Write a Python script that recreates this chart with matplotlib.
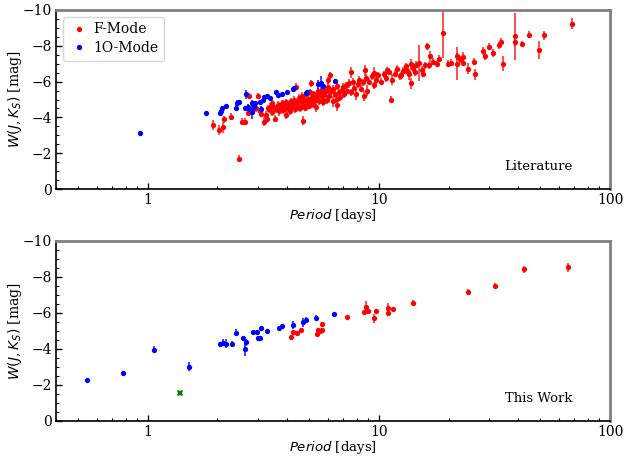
import matplotlib
matplotlib.use("Agg")
import matplotlib.pyplot as plt
from matplotlib.lines import Line2D
from matplotlib.ticker import AutoMinorLocator, LogLocator, NullFormatter, FixedLocator, FixedFormatter

plt.rcParams["font.family"] = ["DejaVu Serif"]
plt.rcParams["mathtext.fontset"] = "dejavusans"

# ---------------- Literature sample ----------------
# Fundamental-mode Cepheids: period [d], W(J,Ks) [mag], error [mag]
lit_f_period = [
    1.92, 2.04, 2.12, 2.13, 2.30, 2.48, 2.55, 2.64, 2.72, 2.74, 2.87, 2.95, 3.0, 3.05, 3.1,
    3.17, 3.26, 3.28, 3.32, 3.37, 3.46, 3.55, 3.73, 3.85, 3.96, 4.37, 4.7, 5.1, 6.04, 6.13,
    6.56, 7.0, 7.56, 8.6, 8.7, 9.47, 10.8, 11.3, 12.5, 12.95, 13.4, 13.7, 13.8, 14.3, 14.9,
    15.5, 16.2, 16.6, 16.5, 17.2, 17.8, 18.1, 18.9, 19.9, 20.6, 21.7, 21.7, 22.5, 23.0, 23.1,
    24.4, 25.8, 26.1, 28.1, 28.8, 30.0, 31.0, 33.1, 33.9, 34.5, 38.8, 38.8, 41.4, 44.8, 49.2,
    51.9, 68.6,
    3.35, 3.45, 3.5, 3.6, 3.65, 3.7, 3.75, 3.8, 3.85, 3.9, 3.95, 4.0,
    4.05, 4.1, 4.15, 4.2, 4.25, 4.3, 4.35, 4.4, 4.45, 4.5, 4.55, 4.6, 4.65, 4.7, 4.75, 4.8,
    4.85, 4.9, 4.95, 5.0, 5.05, 5.1, 5.15, 5.2, 5.25, 5.3, 5.35, 5.4, 5.45,
    5.5, 5.6, 5.65, 5.7, 5.75, 5.8, 5.9, 5.95, 6.0, 6.1, 6.2, 6.3, 6.35, 6.45, 6.55, 6.6,
    6.7, 6.8, 6.9,
    7.05, 7.2, 7.3, 7.45, 7.6, 7.7, 7.8, 7.95, 8.1, 8.2, 8.35, 8.5, 8.8, 8.9, 9.05, 9.3,
    9.5, 9.7, 9.9,
    10.2, 10.5, 10.7, 11.0, 11.4, 11.7, 12.0, 12.3, 12.7, 13.1, 13.5, 14.0, 14.5, 15.3, 15.8,
]
lit_f_w = [
    -3.57, -3.29, -3.44, -3.89, -4.03, -1.69, -3.75, -3.75, -4.26, -5.2, -4.5, -4.5, -5.2, -4.35, -4.2,
    -3.75, -4.13, -3.9, -4.5, -4.59, -4.81, -3.92, -4.68, -4.78, -4.13, -5.71, -3.81, -5.9, -6.08, -6.36,
    -4.68, -5.71, -6.51, -5.19, -6.64, -6.5, -6.64, -4.98, -6.36, -6.64, -6.54, -6.97, -5.9, -6.54, -7.05,
    -6.45, -7.98, -7.42, -6.92, -7.1, -7.01, -7.29, -8.74, -7.01, -7.05, -7.42, -7.01, -7.24, -7.38, -7.05,
    -6.73, -7.1, -6.41, -7.71, -7.43, -7.94, -7.6, -8.03, -8.21, -7.01, -8.53, -8.21, -8.12, -8.63, -7.75,
    -8.59, -9.24,
    -4.45, -4.3, -4.6, -4.45, -4.7, -4.35, -4.55, -4.75, -4.4, -4.6, -4.85, -4.5,
    -4.7, -4.35, -4.9, -4.55, -4.75, -5.0, -4.45, -4.85, -4.65, -5.1, -4.5, -4.9, -5.2, -4.7, -5.0, -4.55,
    -5.3, -4.8, -5.05, -4.65, -5.4, -4.9, -5.15, -4.75, -5.3, -5.0, -4.6, -5.2, -5.45,
    -4.9, -5.3, -5.05, -5.55, -4.85, -5.25, -5.45, -5.0, -5.7, -5.2, -5.45, -4.9, -5.6, -5.3, -5.05, -5.75,
    -5.4, -5.15, -5.55,
    -5.3, -5.8, -5.5, -5.9, -5.4, -6.0, -5.65, -5.3, -5.85, -6.1, -5.6, -5.95, -6.2, -5.5, -6.0, -6.3,
    -5.8, -6.1, -6.35,
    -6.0, -6.4, -6.2, -6.55, -6.1, -6.45, -6.7, -6.3, -6.6, -6.85, -6.4, -6.75, -6.95, -6.65, -6.9,
]
lit_f_err = [
    0.3, 0.3, 0.3, 0.2, 0.2, 0.2, 0.2, 0.2, 0.2, 0.15, 0.2, 0.2, 0.15, 0.2, 0.2,
    0.25, 0.2, 0.2, 0.2, 0.2, 0.2, 0.2, 0.2, 0.2, 0.2, 0.2, 0.25, 0.2, 0.2, 0.2,
    0.3, 0.2, 0.3, 0.3, 0.3, 0.3, 0.2, 0.2, 0.2, 0.2, 0.2, 0.3, 0.3, 0.2, 1.0,
    0.2, 0.2, 0.3, 0.2, 0.2, 0.2, 0.2, 1.4, 0.2, 0.2, 0.2, 0.9, 0.2, 0.3, 0.2,
    0.3, 0.2, 0.3, 0.2, 0.2, 0.2, 0.2, 0.2, 0.2, 0.4, 1.3, 0.2, 0.15, 0.2, 0.5,
    0.25, 0.3,
    0.2, 0.2, 0.15, 0.2, 0.2, 0.25, 0.15, 0.2, 0.2, 0.2, 0.2, 0.3,
    0.2, 0.2, 0.2, 0.2, 0.25, 0.2, 0.2, 0.2, 0.3, 0.2, 0.2, 0.2, 0.2, 0.25, 0.2, 0.2,
    0.2, 0.2, 0.25, 0.2, 0.2, 0.3, 0.2, 0.2, 0.2, 0.2, 0.3, 0.2, 0.2,
    0.2, 0.2, 0.25, 0.2, 0.2, 0.2, 0.2, 0.25, 0.2, 0.2, 0.2, 0.3, 0.2, 0.2, 0.2, 0.2,
    0.2, 0.25, 0.2,
    0.2, 0.2, 0.2, 0.25, 0.2, 0.2, 0.2, 0.3, 0.2, 0.2, 0.2, 0.2, 0.2, 0.3, 0.2, 0.2,
    0.2, 0.25, 0.2,
    0.2, 0.2, 0.2, 0.2, 0.3, 0.2, 0.2, 0.2, 0.2, 0.2, 0.3, 0.2, 0.2, 0.2, 0.2,
]

# First-overtone Cepheids
lit_1o_period = [
    0.92, 1.78, 2.06, 2.08, 2.10, 2.17, 2.40, 2.44, 2.48, 2.63, 2.67, 2.71, 2.73, 2.81, 2.83,
    2.88, 2.9, 3.05, 3.1, 3.16, 3.19, 3.28, 3.37, 3.6, 3.66, 3.79, 3.98, 4.26, 4.3, 4.83,
    4.86, 5.46, 5.6, 5.7, 6.45,
]
lit_1o_w = [
    -3.15, -4.26, -4.26, -4.35, -4.5, -4.63, -4.53, -4.81, -4.87, -4.5, -5.28, -4.59, -4.45, -4.81, -4.31,
    -4.59, -4.81, -4.87, -4.45, -4.96, -5.15, -5.19, -5.11, -5.4, -5.24, -5.3, -5.4, -5.61, -5.64, -5.37,
    -5.43, -5.84, -5.9, -5.75, -6.04,
]
lit_1o_err = [
    0.1, 0.1, 0.1, 0.15, 0.15, 0.1, 0.15, 0.15, 0.1, 0.1, 0.25, 0.15, 0.15, 0.15, 0.4,
    0.1, 0.1, 0.1, 0.2, 0.1, 0.1, 0.1, 0.1, 0.1, 0.1, 0.1, 0.1, 0.1, 0.1, 0.1,
    0.1, 0.25, 0.4, 0.15, 0.1,
]

# ---------------- This work ----------------
tw_f_period = [
    4.18, 4.23, 4.4, 4.62, 5.37, 5.45, 5.55, 5.64, 5.64, 7.28, 8.6, 8.77, 8.98, 9.47, 9.75,
    10.9, 10.97, 11.5, 14.1, 24.3, 31.9, 42.5, 65.7,
]
tw_f_w = [
    -4.69, -4.96, -4.91, -5.04, -4.81, -5.06, -5.02, -5.06, -5.37, -5.76, -6.07, -6.35, -6.11, -5.7, -6.11,
    -5.98, -6.26, -6.2, -6.57, -7.19, -7.5, -8.43, -8.54,
]
tw_f_err = [
    0.1, 0.1, 0.1, 0.1, 0.1, 0.1, 0.1, 0.1, 0.1, 0.1, 0.1, 0.3, 0.15, 0.25, 0.1,
    0.15, 0.3, 0.15, 0.15, 0.15, 0.15, 0.2, 0.25,
]

tw_1o_period = [
    0.546, 0.777, 1.065, 1.51, 2.06, 2.12, 2.17, 2.32, 2.40, 2.59, 2.63, 2.67, 2.84, 2.97, 3.0,
    3.05, 3.1, 3.29, 3.68, 3.79, 4.23, 4.7, 4.83, 5.33, 6.38,
]
tw_1o_w = [
    -2.26, -2.68, -3.96, -3.0, -4.28, -4.35, -4.28, -4.28, -4.91, -4.59, -3.98, -4.37, -4.94, -4.94, -4.59,
    -4.59, -5.15, -5.02, -5.19, -5.28, -5.33, -5.48, -5.61, -5.74, -5.93,
]
tw_1o_err = [
    0.08, 0.1, 0.2, 0.25, 0.12, 0.2, 0.25, 0.15, 0.2, 0.15, 0.35, 0.2, 0.1, 0.1, 0.12,
    0.12, 0.1, 0.1, 0.1, 0.1, 0.2, 0.25, 0.15, 0.15, 0.1,
]

# Peculiar object
tw_x_period = [1.376]
tw_x_w = [-1.54]

panel_labels = ["Literature", "This Work"]

fig = plt.figure(figsize=(6.24, 4.58), dpi=100)
ax_top = fig.add_axes([0.0897, 0.5873, 0.8879, 0.3909])
ax_bot = fig.add_axes([0.0897, 0.0808, 0.8879, 0.3930])

ebkw = dict(fmt="o", markersize=3.8, elinewidth=1.3, capsize=0, markeredgewidth=0)

ax_top.errorbar(lit_f_period, lit_f_w, yerr=lit_f_err, color="red", ecolor=(1, 0, 0, 0.75), **ebkw)
ax_top.errorbar(lit_1o_period, lit_1o_w, yerr=lit_1o_err, color="blue", ecolor=(0, 0, 1, 0.8), **ebkw)

ax_bot.errorbar(tw_f_period, tw_f_w, yerr=tw_f_err, color="red", ecolor=(1, 0, 0, 0.75), **ebkw)
ax_bot.errorbar(tw_1o_period, tw_1o_w, yerr=tw_1o_err, color="blue", ecolor=(0, 0, 1, 0.8), **ebkw)
ax_bot.plot(tw_x_period, tw_x_w, "X", color="green", markersize=5, markeredgewidth=0)

for ax, lab in zip([ax_top, ax_bot], panel_labels):
    ax.set_xscale("log")
    ax.set_xlim(0.4, 100)
    ax.set_ylim(0, -10)
    ax.xaxis.set_major_locator(FixedLocator([1, 10, 100]))
    ax.xaxis.set_major_formatter(FixedFormatter(["1", "10", "100"]))
    ax.xaxis.set_minor_locator(LogLocator(base=10, subs=range(2, 10)))
    ax.xaxis.set_minor_formatter(NullFormatter())
    ax.set_yticks([0, -2, -4, -6, -8, -10])
    ax.yaxis.set_minor_locator(AutoMinorLocator(4))
    ax.tick_params(which="both", direction="in", top=False, right=False, labelsize=10)
    ax.tick_params(which="major", length=4, width=1, pad=3)
    ax.tick_params(which="minor", length=2.5, width=0.8)
    for side in ("left", "bottom"):
        ax.spines[side].set_color("black")
        ax.spines[side].set_linewidth(1.2)
    for side in ("top", "right"):
        ax.spines[side].set_color("#808080")
        ax.spines[side].set_linewidth(2)
    ax.set_xlabel(r"$Period$ [days]", fontsize=9.5, labelpad=0)
    ax.set_ylabel(r"$W(J,K_S)$ [mag]", fontsize=10, labelpad=-1)
    ax.text(0.933, 0.125, lab, transform=ax.transAxes, ha="right", va="center", fontsize=9.5)

handles = [
    Line2D([], [], marker="o", linestyle="none", color="red", markersize=3.8, markeredgewidth=0, label="F-Mode"),
    Line2D([], [], marker="o", linestyle="none", color="blue", markersize=3.8, markeredgewidth=0, label="1O-Mode"),
]
ax_top.legend(handles=handles, loc="upper left", fontsize=10, handletextpad=0.3,
              borderpad=0.4, labelspacing=0.35, handlelength=1.5, frameon=True)

fig.savefig("out.png", dpi=100)
